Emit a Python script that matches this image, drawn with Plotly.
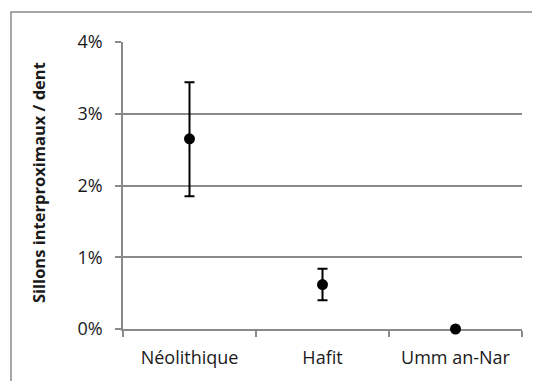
import plotly.graph_objects as go

categories = ["Néolithique", "Hafit", "Umm an-Nar"]
values = [0.0265, 0.0062, 0.0]
err_plus = [0.0079, 0.0022, 0.0]
err_minus = [0.0080, 0.0022, 0.0]
y_ticks = [0, 0.01, 0.02, 0.03, 0.04]
y_title = "Sillons interproximaux / dent"

FONT = "Open Sans"
TXT = "#1a1a1a"
GRID = "#8a8a8a"

fig = go.Figure()
fig.add_trace(go.Scatter(
    x=categories, y=values, mode="markers",
    marker=dict(color="black", size=11),
    error_y=dict(type="data", array=err_plus, arrayminus=err_minus,
                 symmetric=False, color="black", thickness=2, width=5),
    cliponaxis=False, showlegend=False,
))

fig.update_layout(
    width=540, height=381,
    margin=dict(l=115, r=26, t=34, b=60),
    paper_bgcolor="white", plot_bgcolor="white",
    font=dict(family=FONT, size=18, color=TXT),
    xaxis=dict(
        type="category", range=[-0.5, 2.5], tickson="boundaries",
        showgrid=False, showline=True, linecolor=GRID, linewidth=1.5,
        ticks="outside", ticklen=6, tickcolor=GRID, tickwidth=1.5,
        ticklabelstandoff=12, layer="below traces",
        tickfont=dict(family=FONT, size=18, color=TXT),
    ),
    yaxis=dict(
        range=[0, 0.04], tickvals=y_ticks, tickformat=".0%",
        showgrid=True, gridcolor=GRID, gridwidth=1.5,
        showline=True, linecolor=GRID, linewidth=1.5,
        ticks="outside", ticklen=6, tickcolor=GRID, tickwidth=1.5,
        ticklabelstandoff=9, zeroline=False, layer="below traces",
        tickfont=dict(family=FONT, size=18, color=TXT),
    ),
    annotations=[dict(
        text="<b>" + y_title + "</b>", textangle=-90,
        xref="paper", yref="paper", x=-0.212, y=0.51,
        xanchor="center", yanchor="middle", showarrow=False,
        font=dict(family=FONT, size=16.5, color=TXT),
    )],
    shapes=[dict(
        type="rect", xref="paper", yref="paper",
        x0=-0.2807, x1=1.0326, y0=-0.3, y1=1.1046,
        line=dict(color=GRID, width=1.5), fillcolor="rgba(0,0,0,0)",
        layer="below",
    )],
)

fig.write_html("out.html")
